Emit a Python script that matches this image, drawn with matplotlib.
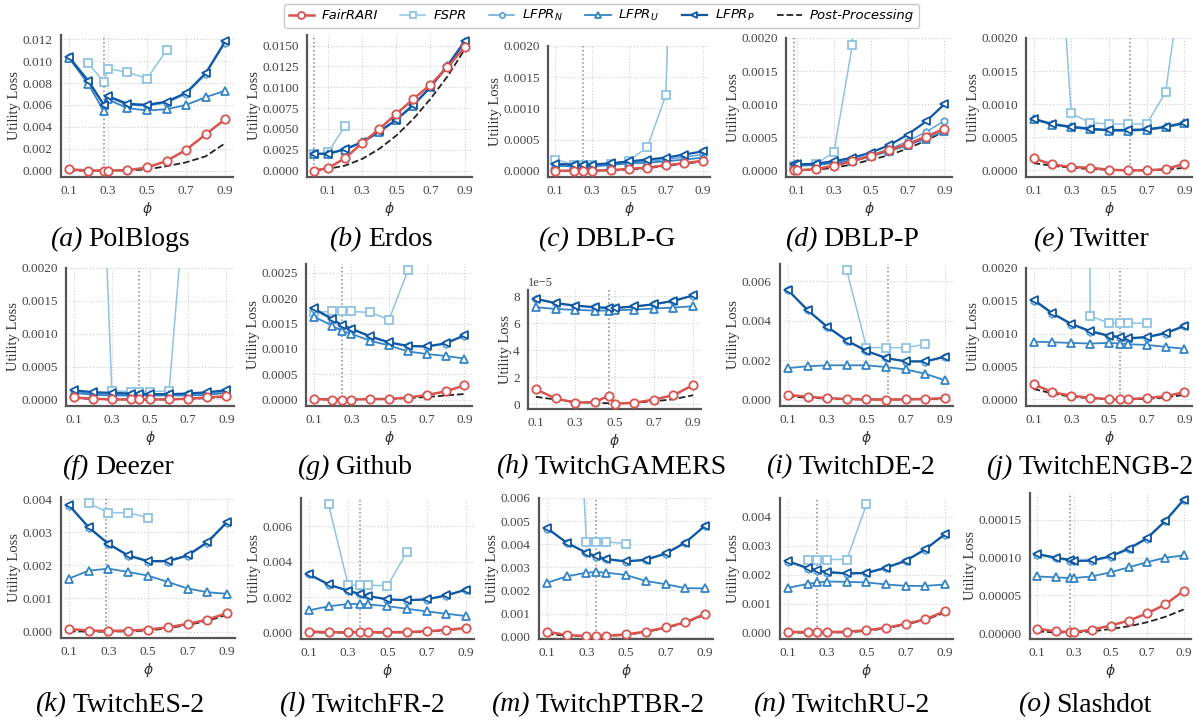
import numpy as np
import matplotlib
matplotlib.use('Agg')
import matplotlib.pyplot as plt
from matplotlib.lines import Line2D
from matplotlib.ticker import MultipleLocator

nan = np.nan

# ---- utility loss per dataset (phi grid, cut-off phi shown as dotted line) ----
x_a = [0.1, 0.2, 0.28, 0.3, 0.4, 0.5, 0.6, 0.7, 0.8, 0.9]
fair_a = [0.00012, 0.0, 0.0, 0.0, 0.00003, 0.00028, 0.00087, 0.0019, 0.0033, 0.0047]
fspr_a = [nan, 0.0098, 0.0081, 0.0093, 0.0090, 0.0084, 0.0110, nan, nan, nan]
lfprn_a = [0.0103, 0.0081, 0.0059, 0.0067, 0.0060, 0.0059, 0.0062, 0.0070, 0.0088, 0.0117]
lfpru_a = [0.0103, 0.0079, 0.0054, 0.0065, 0.0057, 0.0055, 0.0056, 0.0060, 0.0067, 0.0073]
lfprp_a = [0.0104, 0.0082, 0.0060, 0.0068, 0.0061, 0.0060, 0.0063, 0.0071, 0.0089, 0.0118]
post_a = [0.0, 0.0, 0.0, 0.0, 0.00002, 0.0001, 0.0004, 0.00075, 0.0013, 0.0025]

x_b = [0.02, 0.1, 0.2, 0.3, 0.4, 0.5, 0.6, 0.7, 0.8, 0.9]
fair_b = [0.0, 0.0003, 0.0015, 0.0033, 0.0050, 0.0068, 0.0086, 0.0103, 0.0124, 0.0148]
fspr_b = [0.0020, 0.0022, 0.0054, nan, nan, nan, nan, nan, nan, nan]
lfprn_b = [0.0020, 0.0020, 0.0025, 0.0034, 0.0046, 0.0061, 0.0078, 0.0100, 0.0125, 0.0154]
lfpru_b = [0.0020, 0.0020, 0.0025, 0.0034, 0.0046, 0.0061, 0.0078, 0.0100, 0.0125, 0.0154]
lfprp_b = [0.0020, 0.0020, 0.0026, 0.0034, 0.0047, 0.0061, 0.0079, 0.0100, 0.0126, 0.0155]
post_b = [0.0, 0.0002, 0.0006, 0.0014, 0.0026, 0.0042, 0.0062, 0.0086, 0.0113, 0.0145]

x_c = [0.1, 0.2, 0.25, 0.3, 0.4, 0.5, 0.6, 0.7, 0.8, 0.9]
fair_c = [0.0, 0.0, 0.0, 0.0, 0.00001, 0.00003, 0.00005, 0.00009, 0.00012, 0.00016]
fspr_c = [0.00018, 0.0001, 0.0001, 0.0001, 0.00011, 0.00016, 0.00038, 0.00121, 0.0101, 0.02]
lfprn_c = [0.0001, 0.00009, 0.00009, 0.00009, 0.0001, 0.00013, 0.00015, 0.00018, 0.00022, 0.00026]
lfpru_c = [0.00008, 0.00007, 0.00007, 0.00007, 0.00009, 0.00012, 0.00013, 0.00015, 0.00018, 0.00021]
lfprp_c = [0.00011, 0.0001, 0.0001, 0.0001, 0.00012, 0.00015, 0.00018, 0.00021, 0.00026, 0.00031]
post_c = [0.0, 0.0, 0.0, 0.0, 0.00001, 0.00002, 0.00004, 0.00008, 0.00011, 0.00015]

x_d = [0.08, 0.1, 0.2, 0.3, 0.4, 0.5, 0.6, 0.7, 0.8, 0.9]
fair_d = [0.0, 0.0, 0.00002, 0.00007, 0.00014, 0.00022, 0.00031, 0.0004, 0.00051, 0.00063]
fspr_d = [0.00007, 0.00007, 0.00009, 0.00028, 0.0019, 0.03, nan, nan, nan, nan]
lfprn_d = [0.00008, 0.00008, 0.00009, 0.00012, 0.00016, 0.00023, 0.00032, 0.00044, 0.00058, 0.00075]
lfpru_d = [0.00007, 0.00007, 0.00008, 0.00011, 0.00014, 0.00021, 0.00029, 0.00038, 0.00048, 0.00059]
lfprp_d = [0.00009, 0.00009, 0.0001, 0.00014, 0.00019, 0.00027, 0.00038, 0.00054, 0.00074, 0.001]
post_d = [0.0, 0.0, 0.00001, 0.00004, 0.00009, 0.00016, 0.00023, 0.00033, 0.00045, 0.00059]

x_e = [0.1, 0.2, 0.3, 0.4, 0.5, 0.6, 0.7, 0.8, 0.9]
fair_e = [0.00018, 0.00009, 0.00005, 0.00004, 0.00001, 0.0, 0.0, 0.00002, 0.0001]
fspr_e = [0.008, 0.0051, 0.00086, 0.00072, 0.0007, 0.0007, 0.0007, 0.00118, 0.0032]
lfprn_e = [0.00077, 0.0007, 0.00065, 0.00062, 0.0006, 0.0006, 0.00061, 0.00065, 0.00071]
lfpru_e = [0.00077, 0.00069, 0.00065, 0.00062, 0.0006, 0.0006, 0.00061, 0.00065, 0.00071]
lfprp_e = [0.00078, 0.0007, 0.00066, 0.00063, 0.00061, 0.00061, 0.00062, 0.00066, 0.00072]
post_e = [0.00011, 0.00007, 0.00004, 0.00002, 0.00001, 0.0, 0.0, 0.00001, 0.00004]

x_f = [0.1, 0.2, 0.3, 0.4, 0.44, 0.5, 0.6, 0.7, 0.8, 0.9]
fair_f = [0.00003, 0.00001, 0.0, 0.0, 0.0, 0.0, 0.0, 0.00001, 0.00003, 0.00005]
fspr_f = [0.009, 0.0076, 0.00013, 0.00012, 0.00012, 0.00012, 0.00013, 0.0037, 0.006, 0.008]
lfprn_f = [0.00012, 0.00009, 0.00008, 0.00007, 0.00007, 0.00007, 0.00007, 0.00008, 0.00009, 0.00012]
lfpru_f = [0.0001, 0.00007, 0.00006, 0.00006, 0.00006, 0.00006, 0.00006, 0.00006, 0.00007, 0.0001]
lfprp_f = [0.00014, 0.00011, 0.0001, 0.00009, 0.00009, 0.00008, 0.00008, 0.00009, 0.00011, 0.00014]
post_f = [0.00002, 0.00001, 0.0, 0.0, 0.0, 0.0, 0.0, 0.00001, 0.00002, 0.00004]

x_g = [0.1, 0.2, 0.25, 0.3, 0.4, 0.5, 0.6, 0.7, 0.8, 0.9]
fair_g = [0.00001, 0.0, 0.0, 0.0, 0.00001, 0.00001, 0.00004, 0.00009, 0.00016, 0.00028]
fspr_g = [0.00172, 0.00174, 0.00174, 0.00174, 0.00172, 0.00158, 0.00255, nan, nan, nan]
lfprn_g = [0.00178, 0.00158, 0.00146, 0.00139, 0.00124, 0.00112, 0.00105, 0.00104, 0.0011, 0.00126]
lfpru_g = [0.00164, 0.00146, 0.00135, 0.0013, 0.00116, 0.00107, 0.00095, 0.0009, 0.00086, 0.00081]
lfprp_g = [0.0018, 0.00159, 0.00147, 0.0014, 0.00125, 0.00113, 0.00106, 0.00105, 0.00111, 0.00127]
post_g = [0.00001, 0.0, 0.0, 0.0, 0.00001, 0.00001, 0.00003, 0.00005, 0.00008, 0.00011]

x_h = [0.1, 0.2, 0.3, 0.4, 0.47, 0.5, 0.6, 0.7, 0.8, 0.9]
fair_h = [1.10e-5, 0.43e-5, 0.12e-5, 0.17e-5, 0.62e-5, 0.05e-5, 0.10e-5, 0.35e-5, 0.67e-5, 1.42e-5]
fspr_h = [nan] * 10
lfprn_h = [7.78e-5, 7.46e-5, 7.28e-5, 7.16e-5, 7.11e-5, 7.11e-5, 7.21e-5, 7.38e-5, 7.63e-5, 8.03e-5]
lfpru_h = [7.18e-5, 7.05e-5, 6.98e-5, 6.93e-5, 6.93e-5, 6.95e-5, 7.00e-5, 7.08e-5, 7.15e-5, 7.25e-5]
lfprp_h = [7.80e-5, 7.48e-5, 7.30e-5, 7.18e-5, 7.13e-5, 7.13e-5, 7.23e-5, 7.40e-5, 7.65e-5, 8.05e-5]
post_h = [0.55e-5, 0.35e-5, 0.17e-5, 0.10e-5, 0.08e-5, 0.08e-5, 0.12e-5, 0.22e-5, 0.37e-5, 0.67e-5]

x_i = [0.1, 0.2, 0.3, 0.4, 0.5, 0.6, 0.7, 0.8, 0.9]
fair_i = [0.00024, 0.00014, 0.00007, 0.00003, 0.00001, 0.0, 0.00001, 0.00003, 0.00007]
fspr_i = [nan, nan, nan, 0.00656, 0.00264, 0.00264, 0.00264, 0.00281, nan]
lfprn_i = [0.00555, 0.00453, 0.00368, 0.00298, 0.00245, 0.0021, 0.00193, 0.00193, 0.00216]
lfpru_i = [0.0016, 0.00169, 0.00174, 0.00174, 0.00174, 0.00165, 0.00153, 0.00131, 0.00097]
lfprp_i = [0.00557, 0.00455, 0.0037, 0.003, 0.00247, 0.00211, 0.00194, 0.00194, 0.00218]
post_i = [0.00017, 0.00009, 0.00005, 0.00002, 0.0, 0.0, 0.00001, 0.00002, 0.00005]

x_j = [0.1, 0.2, 0.3, 0.4, 0.5, 0.56, 0.6, 0.7, 0.8, 0.9]
fair_j = [0.00023, 0.00011, 0.000056, 0.000026, 0.000005, 0.0, 0.000005, 0.00002, 0.00005, 0.00011]
fspr_j = [nan, nan, 0.1, 0.00127, 0.00116, 0.00116, 0.00116, 0.00116, nan, nan]
lfprn_j = [0.0015, 0.0013, 0.00114, 0.00103, 0.00096, 0.00094, 0.00092, 0.00094, 0.001, 0.00111]
lfpru_j = [0.00088, 0.00087, 0.00086, 0.00085, 0.00086, 0.00085, 0.00084, 0.00083, 0.0008, 0.00077]
lfprp_j = [0.00152, 0.00131, 0.00115, 0.00104, 0.00097, 0.00095, 0.00093, 0.00095, 0.00101, 0.00112]
post_j = [0.00016, 0.00009, 0.00004, 0.00002, 0.0, 0.0, 0.0, 0.00001, 0.00003, 0.00007]

x_k = [0.1, 0.2, 0.3, 0.4, 0.5, 0.6, 0.7, 0.8, 0.9]
fair_k = [0.00008, 0.00003, 0.00002, 0.00003, 0.00006, 0.00013, 0.00023, 0.00036, 0.00056]
fspr_k = [nan, 0.00387, 0.00359, 0.00359, 0.00344, nan, nan, nan, nan]
lfprn_k = [0.0038, 0.00313, 0.00263, 0.00228, 0.00211, 0.00211, 0.00228, 0.00268, 0.00329]
lfpru_k = [0.0016, 0.00184, 0.0019, 0.0018, 0.00169, 0.0015, 0.0013, 0.00119, 0.00114]
lfprp_k = [0.00382, 0.00315, 0.00265, 0.0023, 0.00213, 0.00213, 0.0023, 0.0027, 0.00331]
post_k = [0.00001, 0.0, 0.0, 0.00001, 0.00003, 0.0001, 0.0002, 0.00032, 0.00051]

x_l = [0.1, 0.2, 0.3, 0.36, 0.4, 0.5, 0.6, 0.7, 0.8, 0.9]
fair_l = [0.00008, 0.00004, 0.00004, 0.00004, 0.00004, 0.00004, 0.00005, 0.0001, 0.00017, 0.00028]
fspr_l = [nan, 0.00723, 0.00269, 0.00269, 0.00269, 0.00265, 0.00458, nan, nan, nan]
lfprn_l = [0.00329, 0.00271, 0.00235, 0.00218, 0.00206, 0.00187, 0.00182, 0.00187, 0.0021, 0.00242]
lfpru_l = [0.00127, 0.0015, 0.00163, 0.00163, 0.00161, 0.0015, 0.00136, 0.00121, 0.00108, 0.00095]
lfprp_l = [0.00331, 0.00273, 0.00237, 0.0022, 0.00208, 0.00189, 0.00184, 0.00189, 0.00212, 0.00244]
post_l = [0.00003, 0.00002, 0.00002, 0.00002, 0.00002, 0.00003, 0.00004, 0.00008, 0.00015, 0.00026]

x_m = [0.1, 0.2, 0.3, 0.35, 0.4, 0.5, 0.6, 0.7, 0.8, 0.9]
fair_m = [0.00022, 0.00007, 0.00003, 0.00003, 0.00004, 0.0001, 0.00022, 0.0004, 0.00062, 0.00099]
fspr_m = [nan, 0.02, 0.0041, 0.0041, 0.0041, 0.00403, nan, nan, nan, nan]
lfprn_m = [0.00468, 0.00405, 0.00361, 0.00346, 0.00334, 0.00324, 0.00331, 0.00358, 0.00405, 0.00479]
lfpru_m = [0.00233, 0.00261, 0.00277, 0.0028, 0.00277, 0.00267, 0.00241, 0.00227, 0.0021, 0.00209]
lfprp_m = [0.0047, 0.00407, 0.00363, 0.00348, 0.00336, 0.00326, 0.00333, 0.0036, 0.00407, 0.00481]
post_m = [0.00012, 0.00004, 0.00002, 0.00002, 0.00003, 0.00008, 0.0002, 0.00038, 0.0006, 0.00096]

x_n = [0.1, 0.2, 0.25, 0.3, 0.4, 0.5, 0.6, 0.7, 0.8, 0.9]
fair_n = [0.00003, 0.00003, 0.00003, 0.00003, 0.00004, 0.00009, 0.00018, 0.00031, 0.00047, 0.00075]
fspr_n = [nan, 0.00253, 0.00253, 0.00253, 0.00253, 0.00443, nan, nan, nan, nan]
lfprn_n = [0.00245, 0.00222, 0.00214, 0.00208, 0.00203, 0.00205, 0.00223, 0.00247, 0.00287, 0.00339]
lfpru_n = [0.00155, 0.00169, 0.00174, 0.00177, 0.00176, 0.00174, 0.00167, 0.00162, 0.00162, 0.00167]
lfprp_n = [0.00247, 0.00224, 0.00216, 0.0021, 0.00205, 0.00207, 0.00225, 0.00249, 0.00289, 0.00341]
post_n = [0.00001, 0.00001, 0.00001, 0.00001, 0.00002, 0.00007, 0.00016, 0.00029, 0.00045, 0.0007]

x_o = [0.1, 0.2, 0.28, 0.3, 0.4, 0.5, 0.6, 0.7, 0.8, 0.9]
fair_o = [5.8e-6, 2.2e-6, 1.3e-6, 1.3e-6, 4.5e-6, 9.9e-6, 1.66e-5, 2.6e-5, 3.8e-5, 5.6e-5]
fspr_o = [nan] * 10
lfprn_o = [1.04e-4, 0.99e-4, 9.6e-5, 9.5e-5, 9.55e-5, 1.01e-4, 1.11e-4, 1.25e-4, 1.48e-4, 1.76e-4]
lfpru_o = [7.52e-5, 7.39e-5, 7.3e-5, 7.3e-5, 7.52e-5, 8.06e-5, 8.73e-5, 9.4e-5, 1.0e-4, 1.03e-4]
lfprp_o = [1.05e-4, 1.0e-4, 9.72e-5, 9.58e-5, 9.63e-5, 1.02e-4, 1.12e-4, 1.26e-4, 1.49e-4, 1.77e-4]
post_o = [2.2e-6, 0.9e-6, 0.9e-6, 0.9e-6, 2.2e-6, 5.4e-6, 9e-6, 1.43e-5, 2.15e-5, 3.13e-5]

cuts = [0.28, 0.02, 0.25, 0.08, 0.61, 0.44, 0.25, 0.47, 0.61, 0.56, 0.29, 0.36, 0.35, 0.25, 0.28]
tags = ['(a)', '(b)', '(c)', '(d)', '(e)', '(f)', '(g)', '(h)', '(i)', '(j)', '(k)', '(l)', '(m)', '(n)', '(o)']
names = ['PolBlogs', 'Erdos', 'DBLP-G', 'DBLP-P', 'Twitter', 'Deezer', 'Github', 'TwitchGAMERS',
         'TwitchDE-2', 'TwitchENGB-2', 'TwitchES-2', 'TwitchFR-2', 'TwitchPTBR-2', 'TwitchRU-2', 'Slashdot']
ytops = [None, None, 0.002, 0.002, 0.002, 0.002, None, None, None, 0.002, None, None, 0.006, None, None]
ysteps = [0.002, 0.0025, 0.0005, 0.0005, 0.0005, 0.0005, 0.0005, 2e-5, 0.002, 0.0005,
          0.001, 0.002, 0.001, 0.001, 5e-5]

series = [
    (x_a, fair_a, fspr_a, lfprn_a, lfpru_a, lfprp_a, post_a),
    (x_b, fair_b, fspr_b, lfprn_b, lfpru_b, lfprp_b, post_b),
    (x_c, fair_c, fspr_c, lfprn_c, lfpru_c, lfprp_c, post_c),
    (x_d, fair_d, fspr_d, lfprn_d, lfpru_d, lfprp_d, post_d),
    (x_e, fair_e, fspr_e, lfprn_e, lfpru_e, lfprp_e, post_e),
    (x_f, fair_f, fspr_f, lfprn_f, lfpru_f, lfprp_f, post_f),
    (x_g, fair_g, fspr_g, lfprn_g, lfpru_g, lfprp_g, post_g),
    (x_h, fair_h, fspr_h, lfprn_h, lfpru_h, lfprp_h, post_h),
    (x_i, fair_i, fspr_i, lfprn_i, lfpru_i, lfprp_i, post_i),
    (x_j, fair_j, fspr_j, lfprn_j, lfpru_j, lfprp_j, post_j),
    (x_k, fair_k, fspr_k, lfprn_k, lfpru_k, lfprp_k, post_k),
    (x_l, fair_l, fspr_l, lfprn_l, lfpru_l, lfprp_l, post_l),
    (x_m, fair_m, fspr_m, lfprn_m, lfpru_m, lfprp_m, post_m),
    (x_n, fair_n, fspr_n, lfprn_n, lfpru_n, lfprp_n, post_n),
    (x_o, fair_o, fspr_o, lfprn_o, lfpru_o, lfprp_o, post_o),
]

# axes boxes in pixels: left, right, top, bottom
boxes = [
    (61, 233, 35, 177), (307, 472, 35, 177), (548, 710, 46, 177), (786, 952, 38, 177), (1026, 1192, 38, 177),
    (66, 234, 268, 406), (306, 472, 264, 406), (528, 701, 290, 409), (780, 953, 264, 406), (1026, 1192, 268, 406),
    (61, 235, 497, 638), (301, 474, 498, 639), (539, 713, 498, 639), (780, 953, 498, 639), (1030, 1191, 493, 639),
]
cap_x = [120, 381, 607, 852, 1091, 118, 355, 611, 851, 1090, 120, 362, 598, 841, 1085]
cap_y = [240, 240, 240, 240, 240, 467, 467, 467, 467, 467, 705, 705, 705, 705, 705]

W, H = 1198, 723
plt.rcParams['mathtext.fontset'] = 'dejavusans'
serif = 'Liberation Serif'

styles = [
    dict(color='#d9534f', marker='o', lw=1.8, ms=6, zorder=4),
    dict(color='#8fc3e4', marker='s', lw=1.1, ms=6, zorder=3),
    dict(color='#5fa3d6', marker='h', lw=1.1, ms=5, zorder=3),
    dict(color='#3584c6', marker='^', lw=1.3, ms=6, zorder=3),
    dict(color='#0f56a3', marker='<', lw=1.6, ms=6, zorder=3),
]
labels = ['FairRARI', 'FSPR', 'LFPR$_N$', 'LFPR$_U$', 'LFPR$_P$', 'Post-Processing']

fig = plt.figure(figsize=(W / 100, H / 100), dpi=100)

for i in range(15):
    l, r, t, b = boxes[i]
    ax = fig.add_axes([l / W, 1 - b / H, (r - l) / W, (b - t) / H])
    xs = series[i][0]
    for k in range(5):
        st = styles[k]
        ax.plot(xs, series[i][k + 1], color=st['color'], marker=st['marker'], lw=st['lw'],
                ms=st['ms'], mfc='white', mew=1.3, zorder=st['zorder'])
    ax.plot(xs, series[i][6], color='#222222', ls='--', lw=1.3, zorder=2.5)
    ax.axvline(cuts[i], color='#888888', ls=':', lw=1.1, zorder=1)

    if ytops[i] is not None:
        ax.set_ylim(-0.0001, ytops[i])
    ax.yaxis.set_major_locator(MultipleLocator(ysteps[i]))
    ax.set_xticks([0.1, 0.3, 0.5, 0.7, 0.9])
    ax.set_xticklabels(['0.1', '0.3', '0.5', '0.7', '0.9'])
    ax.grid(True, ls=':', color='#cfcfcf', lw=0.8)
    ax.set_axisbelow(True)
    for s in ['top', 'right']:
        ax.spines[s].set_visible(False)
    for s in ['left', 'bottom']:
        ax.spines[s].set_color('#555555')
        ax.spines[s].set_linewidth(1.6)
    ax.tick_params(length=0, labelsize=9.5, labelcolor='#444444', pad=6)
    for lab in ax.get_xticklabels() + ax.get_yticklabels():
        lab.set_family(serif)
    ax.yaxis.get_offset_text().set_fontsize(9)
    ax.yaxis.get_offset_text().set_color('#444444')
    ax.yaxis.get_offset_text().set_family(serif)
    ax.set_ylabel('Utility Loss', fontsize=10.5, family=serif, color='#333333', labelpad=1)
    ax.set_xlabel(r'$\phi$', fontsize=10, color='#333333', labelpad=2)

# captions: italic tag followed by dataset name, centred as one group
pairs = []
for i in range(15):
    t1 = fig.text(0, 1 - cap_y[i] / H, tags[i], family=serif, style='italic', fontsize=20, va='center')
    t2 = fig.text(0, 1 - cap_y[i] / H, names[i], family=serif, fontsize=20, va='center')
    pairs.append((t1, t2))
fig.canvas.draw()
rend = fig.canvas.get_renderer()
gap = 6
for i, (t1, t2) in enumerate(pairs):
    w1 = t1.get_window_extent(rend).width
    w2 = t2.get_window_extent(rend).width
    start = cap_x[i] - (w1 + gap + w2) / 2
    t1.set_x(start / W)
    t2.set_x((start + w1 + gap) / W)

handles = []
for k in range(5):
    st = styles[k]
    handles.append(Line2D([], [], color=st['color'], marker=st['marker'], lw=st['lw'], ms=st['ms'] - 1,
                          mfc='white', mew=1.3))
handles.append(Line2D([], [], color='#222222', ls='--', lw=1.3))
fig.legend(handles, labels, loc='upper center', bbox_to_anchor=(0.502, 1.004), ncol=6,
           prop={'family': 'DejaVu Sans', 'style': 'italic', 'size': 9.5},
           handlelength=1.9, columnspacing=1.7, handletextpad=0.6, frameon=True,
           edgecolor='#bbbbbb', borderpad=0.35, fancybox=True)

fig.savefig('out.png', dpi=100)
